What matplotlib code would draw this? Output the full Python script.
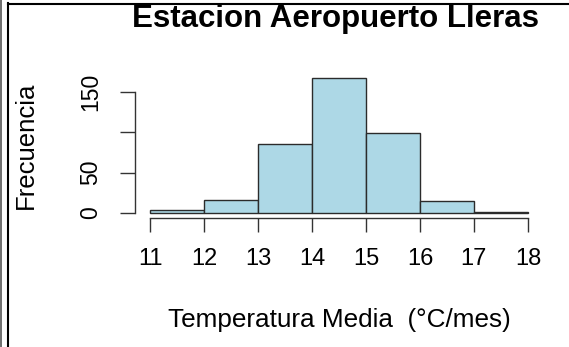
import matplotlib
matplotlib.use("Agg")
import matplotlib.pyplot as plt
from matplotlib.lines import Line2D

# monthly mean temperature histogram, 1 degree bins
bin_edges = [11, 12, 13, 14, 15, 16, 17, 18]
counts = [3, 16, 85, 168, 99, 15, 1]
y_ticks = [0, 50, 100, 150]
y_ticklabels = ["0", "50", "", "150"]

title = "Estacion Aeropuerto Lleras"
xlabel = "Temperatura Media  (°C/mes)"
ylabel = "Frecuencia"

plt.rcParams["font.family"] = ["Liberation Sans", "DejaVu Sans"]

W, H = 569, 347
fig = plt.figure(figsize=(W / 100, H / 100), dpi=100)

# plot region in pixels (left, top, right, bottom)
L, T, R, B = 135, 72.5, 543, 218
ax = fig.add_axes([L / W, 1 - B / H, (R - L) / W, (B - T) / H])

ax.bar(bin_edges[:-1], counts, width=1, align="edge",
       color="#ADD8E6", edgecolor="#2b2b2b", linewidth=1.0)

span = bin_edges[-1] - bin_edges[0]
ax.set_xlim(bin_edges[0] - 0.04 * span, bin_edges[-1] + 0.04 * span)
ymax = max(counts)
ax.set_ylim(-0.04 * ymax, ymax * 1.04)

for s in ("top", "right"):
    ax.spines[s].set_visible(False)
ax.spines["left"].set_bounds(0, 150)
ax.spines["bottom"].set_bounds(bin_edges[0], bin_edges[-1])
for s in ("left", "bottom"):
    ax.spines[s].set_linewidth(1.0)
    ax.spines[s].set_color("#333333")

ax.set_xticks(bin_edges)
ax.set_xticklabels([str(v) for v in bin_edges])
ax.set_yticks(y_ticks)
ax.set_yticklabels(y_ticklabels)
ax.tick_params(axis="x", length=10.3, width=1.0, color="#333333", pad=11, labelsize=17)
ax.tick_params(axis="y", length=10.8, width=1.0, color="#333333", pad=21, labelsize=16.5,
               labelrotation=90)
for lab in ax.get_yticklabels():
    lab.set_ha("center")
    lab.set_va("center")

cx = (L + R) / 2 / W
fig.text(335.5 / W, 1 - 27 / H, title, ha="center", va="baseline",
         fontsize=22.5, fontweight="bold")
fig.text(cx, 1 - 327 / H, xlabel, ha="center", va="baseline", fontsize=18.8)
fig.text(26 / W, 1 - (T + B) / 2 / H, ylabel, ha="center", va="center",
         rotation=90, fontsize=18.5)

# window frame lines
fig.add_artist(Line2D([0.8 / W, 0.8 / W], [0, 1], color="#555555", lw=1.2))
fig.add_artist(Line2D([8.2 / W, 8.2 / W], [0, 1 - 3 / H], color="black", lw=1.5))
fig.add_artist(Line2D([7.5 / W, 1], [1 - 3.8 / H, 1 - 3.8 / H], color="black", lw=1.5))

fig.savefig("out.png", dpi=100)
